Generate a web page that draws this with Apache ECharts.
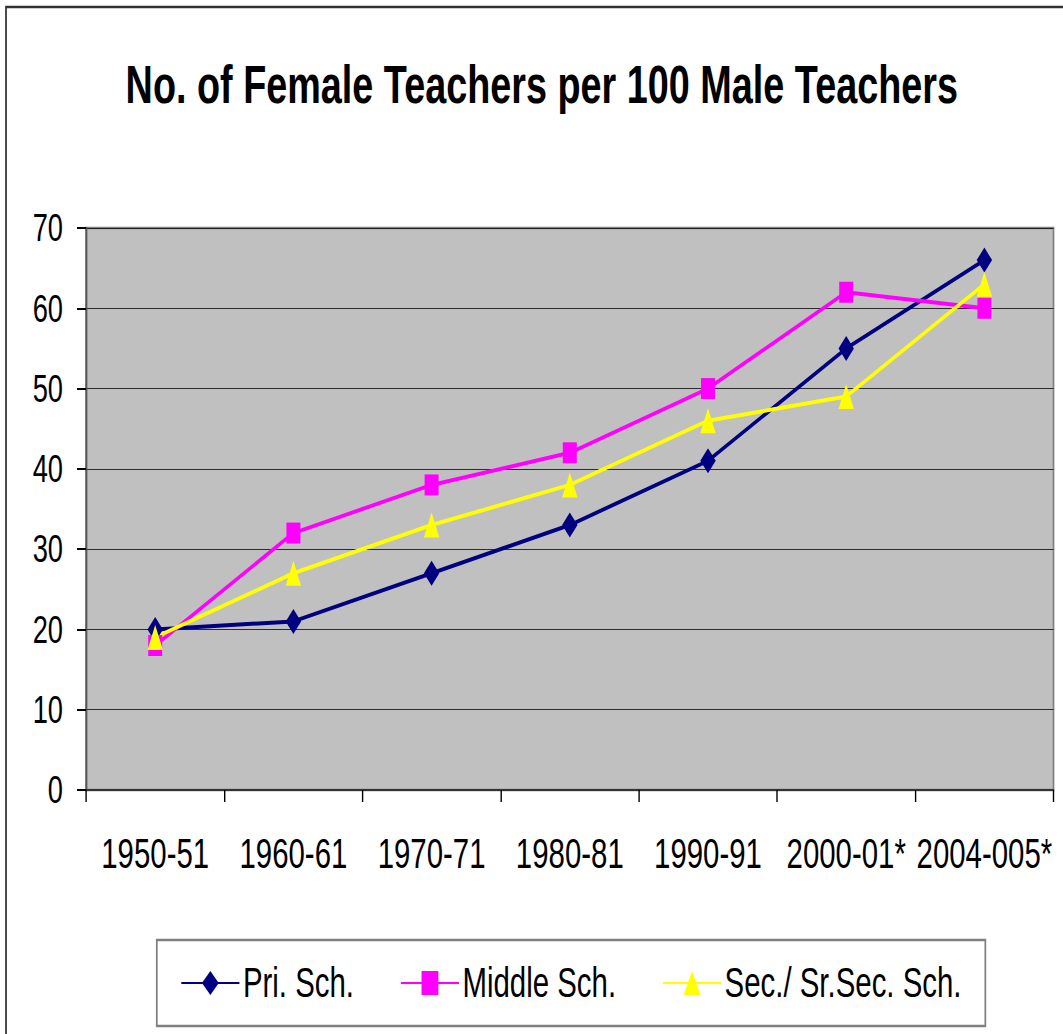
<!DOCTYPE html>
<html>
<head>
<meta charset="utf-8">
<script src="https://cdn.jsdelivr.net/npm/echarts@6/dist/echarts.min.js"></script>
<style>
    html, body { margin: 0; padding: 0; overflow: hidden; background: #fff; }
    /* the original picture is squeezed sideways, so draw wide and squeeze the same way */
    #main { width: 1519px; height: 1034px; transform: scaleX(0.7); transform-origin: 0 0; }
</style>
</head>
<body>
<div id="main"></div>
<script>
// categories
var years = ['1950-51', '1960-61', '1970-71', '1980-81', '1990-91', '2000-01*', '2004-005*']
// female teachers per 100 male teachers
var priSch = [20, 21, 27, 33, 41, 55, 66]
var middleSch = [18, 32, 38, 42, 50, 62, 60]
var secSch = [19, 27, 33, 38, 46, 49, 63]

var font = 'Liberation Sans, Arial, sans-serif'

var myChart = echarts.init(document.getElementById('main'), null, { renderer: 'svg' })
var option = {
    animation: false,
    backgroundColor: '#fff',
    title: {
        text: 'No. of Female Teachers per 100 Male Teachers',
        left: 774,
        top: 57,
        padding: 0,
        textAlign: 'center',
        textStyle: {
            fontFamily: font,
            fontSize: 54,
            fontWeight: 'bold',
            color: '#000'
        }
    },
    // outer frame of the chart
    graphic: [
        {
            type: 'rect',
            shape: { x: 8.6, y: 7, width: 2000, height: 2000 },
            style: { fill: 'none', stroke: '#333', lineWidth: 2.5 },
            silent: true
        }
    ],
    legend: {
        left: 224,
        top: 940,
        padding: [22, 34],
        itemWidth: 83,
        itemHeight: 30,
        itemGap: 66,
        textStyle: {
            fontFamily: font,
            fontSize: 42,
            color: '#000'
        },
        backgroundColor: '#fff',
        borderColor: '#808080',
        borderWidth: 2.5,
        borderRadius: 0
    },
    grid: {
        left: 123,
        right: 14,
        top: 228,
        bottom: 244,
        show: true,
        backgroundColor: '#C0C0C0',
        borderColor: '#808080',
        borderWidth: 2.5
    },
    xAxis: {
        type: 'category',
        data: years,
        boundaryGap: true,
        axisLine: {
            lineStyle: { color: '#333', width: 2 }
        },
        axisTick: {
            show: true,
            interval: 0,
            length: 12,
            lineStyle: { color: '#000', width: 2 }
        },
        axisLabel: {
            interval: 0,
            margin: 43,
            fontFamily: font,
            fontSize: 42,
            color: '#000'
        }
    },
    yAxis: {
        type: 'value',
        position: 'left',
        min: 0,
        max: 70,
        interval: 10,
        axisLine: {
            show: true,
            onZero: false,
            lineStyle: { color: '#555', width: 2.5 }
        },
        axisTick: {
            show: true,
            inside: false,
            length: 13,
            lineStyle: { color: '#000', width: 2, opacity: 1 }
        },
        axisLabel: {
            margin: 33,
            fontFamily: font,
            fontSize: 39,
            color: '#000'
        },
        splitLine: {
            lineStyle: { color: '#111', width: 1 }
        }
    },
    series: [
        {
            name: 'Pri. Sch.',
            type: 'line',
            data: priSch,
            symbol: 'diamond',
            symbolSize: [22, 25],
            color: '#000080',
            lineStyle: { width: 4 }
        },
        {
            name: 'Middle Sch.',
            type: 'line',
            data: middleSch,
            symbol: 'rect',
            symbolSize: [20, 21],
            color: '#FF00FF',
            lineStyle: { width: 4 }
        },
        {
            name: 'Sec./ Sr.Sec. Sch.',
            type: 'line',
            data: secSch,
            symbol: 'triangle',
            symbolSize: [22, 25],
            color: '#FFFF00',
            lineStyle: { width: 4 }
        }
    ]
};
myChart.setOption(option)
</script>
</body>
</html>
